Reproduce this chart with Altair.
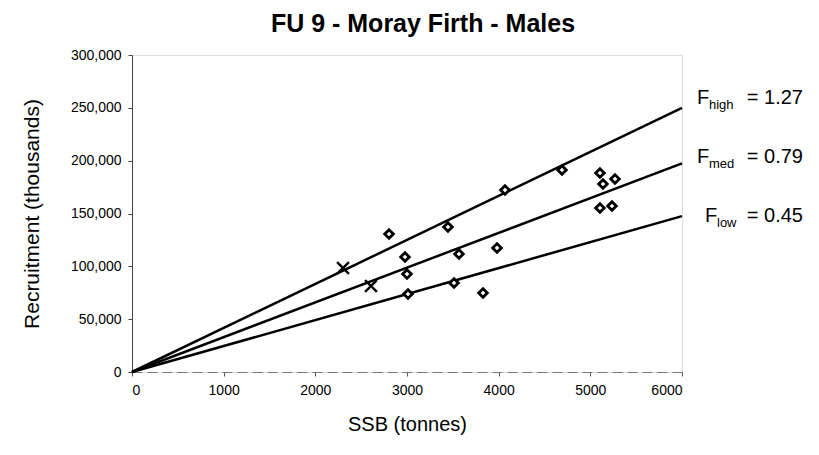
import altair as alt
import pandas as pd

# Observed stock-recruitment points
ssb_obs = [2804, 2978, 3000, 3011, 3447, 3567, 3513, 3829, 3982, 4069, 4691, 5105, 5138, 5269, 5105, 5236]
rec_obs = [130600, 108800, 92700, 73800, 137200, 111700, 84200, 74800, 117400, 172200, 191200, 188300, 177900, 182700, 155200, 157100]

# Cross-marked points
ssb_x = [2302, 2607]
rec_x = [98400, 81400]

# Reference lines through origin
f_names = ["high", "med", "low"]
f_values = ["1.27", "0.79", "0.45"]
line_ssb_end = [6000, 6000, 6000]
line_rec_end = [250000, 197500, 147500]

lines_rows = []
for name, xe, ye in zip(f_names, line_ssb_end, line_rec_end):
    lines_rows.append({"F": name, "ssb": 0, "rec": 0})
    lines_rows.append({"F": name, "ssb": xe, "rec": ye})
lines_df = pd.DataFrame(lines_rows)
obs_df = pd.DataFrame({"ssb": ssb_obs, "rec": rec_obs})
x_df = pd.DataFrame({"ssb": ssb_x, "rec": rec_x})

FONT = "Liberation Sans"

xscale = alt.Scale(domain=[0, 6000], nice=False)
yscale = alt.Scale(domain=[0, 300000], nice=False)

xaxis = alt.Axis(values=[0, 1000, 2000, 3000, 4000, 5000, 6000], format="d", title="SSB (tonnes)",
                 grid=False, tickSize=4, labelPadding=7, labelFontSize=14, titleFontSize=20,
                 titleFontWeight="normal", titlePadding=17, domainColor="#777", domainDash=[10, 5],
                 tickColor="#555", labelColor="black", titleColor="black", labelFont=FONT, titleFont=FONT)
yaxis = alt.Axis(values=[0, 50000, 100000, 150000, 200000, 250000, 300000], format=",d",
                 title="Recruitment (thousands)", grid=False, tickSize=4, labelPadding=7,
                 labelFontSize=14, titleFontSize=21, titleFontWeight="normal", titlePadding=28,
                 domainColor="#444", tickColor="#444", labelColor="black", titleColor="black",
                 labelFont=FONT, titleFont=FONT)

lines = alt.Chart(lines_df).mark_line(color="black", strokeWidth=2.5).encode(
    x=alt.X("ssb:Q", scale=xscale, axis=xaxis),
    y=alt.Y("rec:Q", scale=yscale, axis=yaxis),
    detail="F:N",
)

diamonds = alt.Chart(obs_df).mark_point(shape="diamond", size=75, filled=True, fill="white",
                                         stroke="black", strokeWidth=2.8, opacity=1).encode(
    x=alt.X("ssb:Q", scale=xscale),
    y=alt.Y("rec:Q", scale=yscale),
)

crosses = alt.Chart(x_df).mark_point(shape="M-1,-1L1,1M1,-1L-1,1", size=140, stroke="black",
                                      strokeWidth=2.4, filled=False, opacity=1).encode(
    x=alt.X("ssb:Q", scale=xscale),
    y=alt.Y("rec:Q", scale=yscale),
)

# Labels (F with subscript and value)
label_y_px = [43, 102, 161]
f_x_px = [565, 565, 573]
lab_layers = []
for name, val, ypx, fx in zip(f_names, f_values, label_y_px, f_x_px):
    d = pd.DataFrame({"t": [name]})
    lab_layers.append(alt.Chart(d).mark_text(text="F", font=FONT, fontSize=20, align="left",
                                             baseline="middle", color="black").encode(
        x=alt.value(fx), y=alt.value(ypx)))
    lab_layers.append(alt.Chart(d).mark_text(font=FONT, fontSize=13, align="left",
                                             baseline="middle", color="black").encode(
        text="t:N", x=alt.value(fx + 12), y=alt.value(ypx + 7)))
    lab_layers.append(alt.Chart(pd.DataFrame({"v": ["= " + val]})).mark_text(
        font=FONT, fontSize=20, align="right", baseline="middle", color="black").encode(
        text="v:N", x=alt.value(671), y=alt.value(ypx)))

chart = alt.layer(lines, diamonds, crosses, *lab_layers).properties(
    width=550, height=317,
    title=alt.TitleParams("FU 9 - Moray Firth - Males", font=FONT, fontSize=25, fontWeight="bold",
                          anchor="middle", dx=16, offset=11, color="black"),
    autosize=alt.AutoSizeParams(type="none"),
    padding={"left": 124, "top": 47, "right": 126, "bottom": 70},
).configure_view(stroke=None).configure(background="white")

chart.save("out.html", embed_options={"renderer": "svg", "actions": False})
